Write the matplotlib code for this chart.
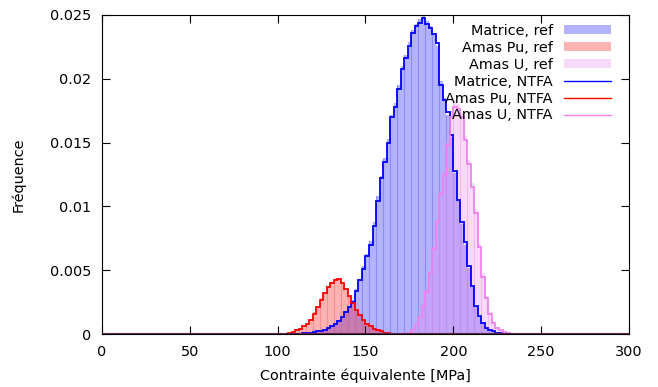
import numpy as np
import matplotlib
matplotlib.use("Agg")
import matplotlib.pyplot as plt
from matplotlib.patches import Patch
from matplotlib.lines import Line2D

# histogram data (bin width 2 MPa), frequencies
bin_w = 2.0

# Matrice: first bin starts at 112 MPa
mat_start = 112.0
mat_ref = [0.00003, 0.00005, 0.00008, 0.0001, 0.00014, 0.0002, 0.00026, 0.00035,
           0.00046, 0.0006, 0.0008, 0.0011, 0.0014, 0.0018, 0.0022, 0.0027,
           0.0035, 0.0043, 0.0053, 0.0063, 0.0073, 0.0088, 0.0108, 0.0124,
           0.0138, 0.0153, 0.0172, 0.0181, 0.0195, 0.0210, 0.0219, 0.0229,
           0.0238, 0.0243, 0.0247, 0.0250, 0.0245, 0.0241, 0.0236, 0.0226,
           0.0198, 0.0185, 0.0172, 0.0154, 0.0126, 0.0104, 0.0086, 0.0070,
           0.0052, 0.0037, 0.0022, 0.0014, 0.0009, 0.0005, 0.0003, 0.0002,
           0.0001, 0.00005, 0.00002]
mat_ntfa = [0.00003, 0.00005, 0.00008, 0.00011, 0.00015, 0.0002, 0.00027, 0.00035,
            0.00045, 0.0006, 0.0008, 0.001, 0.0013, 0.0017, 0.0021, 0.0025,
            0.0034, 0.0042, 0.0051, 0.0061, 0.0070, 0.0085, 0.0104, 0.0122,
            0.0135, 0.0150, 0.0170, 0.0178, 0.0192, 0.0208, 0.0216, 0.0226,
            0.0236, 0.0241, 0.0244, 0.0248, 0.0243, 0.0240, 0.0235, 0.0228,
            0.0195, 0.0183, 0.0174, 0.0156, 0.0128, 0.0105, 0.0088, 0.0072,
            0.0053, 0.0038, 0.0022, 0.0014, 0.0009, 0.0005, 0.0003, 0.0002,
            0.0001, 0.00005, 0.00002]

# Amas Pu: first bin starts at 104 MPa
pu_start = 104.0
pu_ref = [0.00002, 0.00008, 0.00016, 0.0003, 0.0004, 0.0006, 0.0009, 0.0012,
          0.0017, 0.0022, 0.0028, 0.0033, 0.0038, 0.0041, 0.0043, 0.0044,
          0.0041, 0.0036, 0.0030, 0.0024, 0.0019, 0.0015, 0.0011, 0.0008,
          0.0006, 0.0004, 0.0003, 0.0002, 0.0001, 0.00004, 0.00001]
pu_ntfa = [0.00002, 0.00008, 0.00015, 0.0003, 0.0004, 0.0006, 0.0008, 0.0011,
           0.0016, 0.0021, 0.0027, 0.0032, 0.0037, 0.0040, 0.0042, 0.0043,
           0.0040, 0.0035, 0.0030, 0.0024, 0.0019, 0.0015, 0.0011, 0.0008,
           0.0006, 0.0004, 0.0003, 0.0002, 0.0001, 0.00004, 0.00001]

# Amas U: first bin starts at 172 MPa
u_start = 172.0
u_ref = [0.00005, 0.0001, 0.0003, 0.0008, 0.0014, 0.0023, 0.0035, 0.0050,
         0.0069, 0.0090, 0.0112, 0.0128, 0.0152, 0.0175, 0.0183, 0.0180,
         0.0173, 0.0155, 0.0136, 0.0118, 0.0098, 0.0071, 0.0048, 0.0030,
         0.0017, 0.0010, 0.0005, 0.0003, 0.00015, 0.00007, 0.00003]
u_ntfa = [0.00005, 0.0001, 0.0003, 0.0007, 0.0013, 0.0022, 0.0033, 0.0048,
          0.0067, 0.0088, 0.0110, 0.0125, 0.0148, 0.0170, 0.0178, 0.0176,
          0.0170, 0.0152, 0.0133, 0.0115, 0.0095, 0.0068, 0.0045, 0.0028,
          0.0016, 0.0009, 0.0005, 0.0003, 0.00015, 0.00007, 0.00003]

labels_ref = ["Matrice, ref", "Amas Pu, ref", "Amas U, ref"]
labels_ntfa = ["Matrice, NTFA", "Amas Pu, NTFA", "Amas U, NTFA"]
x_ticks = [0, 50, 100, 150, 200, 250, 300]
y_ticks = [0, 0.005, 0.01, 0.015, 0.02, 0.025]
y_ticklabels = ["0", "0.005", "0.01", "0.015", "0.02", "0.025"]

line_colors = ["#0000ff", "#ff0000", "#ee82ee"]
edge_colors = ["#6a6af0", "#f07070", "#e8a0e8"]

plt.rcParams["font.family"] = "DejaVu Sans"
plt.rcParams["font.size"] = 10.4

fig = plt.figure(figsize=(6.58, 3.87), dpi=100)
ax = fig.add_axes([102 / 658, 1 - 334 / 387, 527 / 658, 319 / 387])

series = [(mat_start, mat_ref, mat_ntfa), (pu_start, pu_ref, pu_ntfa),
          (u_start, u_ref, u_ntfa)]

# ref histograms, filled and semi transparent
for i, (start, ref, _) in enumerate(series):
    ref = np.asarray(ref)
    edges = start + bin_w * np.arange(len(ref) + 1)
    ax.stairs(ref, edges, fill=True, color=line_colors[i], alpha=0.3, lw=0, zorder=1)
    # faint box borders
    for k in range(0, len(ref), 2):
        ax.vlines(edges[k], 0, ref[k], color=edge_colors[i], lw=0.8, alpha=0.5, zorder=1.5)

# NTFA histograms, step lines spanning the whole range
for i, (start, _, ntfa) in enumerate(series):
    ntfa = np.asarray(ntfa)
    edges = start + bin_w * np.arange(len(ntfa) + 1)
    vals = np.concatenate([[0.0], ntfa, [0.0]])
    edges = np.concatenate([[0.0], edges, [300.0]])
    ax.stairs(vals, edges, baseline=None, color=line_colors[i], lw=1.3, zorder=3)
ax.axhline(0, color="#602050", lw=1.5, zorder=3.5)

ax.set_xlim(0, 300)
ax.set_ylim(0, 0.025)
ax.set_xticks(x_ticks)
ax.set_yticks(y_ticks)
ax.set_yticklabels(y_ticklabels)
ax.tick_params(direction="in", length=6, top=True, right=True, width=0.8, pad=8)
ax.set_xlabel("Contrainte équivalente [MPa]", labelpad=7)
ax.set_ylabel("Fréquence", labelpad=17)

handles = [Patch(facecolor=c, edgecolor="none", alpha=0.3) for c in line_colors]
handles += [Line2D([], [], color=c, lw=1.0) for c in line_colors]
ax.legend(handles, labels_ref + labels_ntfa, loc="upper right", frameon=False,
          bbox_to_anchor=(0.976, 0.99), borderaxespad=0,
          markerfirst=False, handlelength=3.2, handleheight=0.6, labelspacing=0.2,
          handletextpad=0.8, fontsize=10.4)

fig.savefig("out.png", dpi=100)
